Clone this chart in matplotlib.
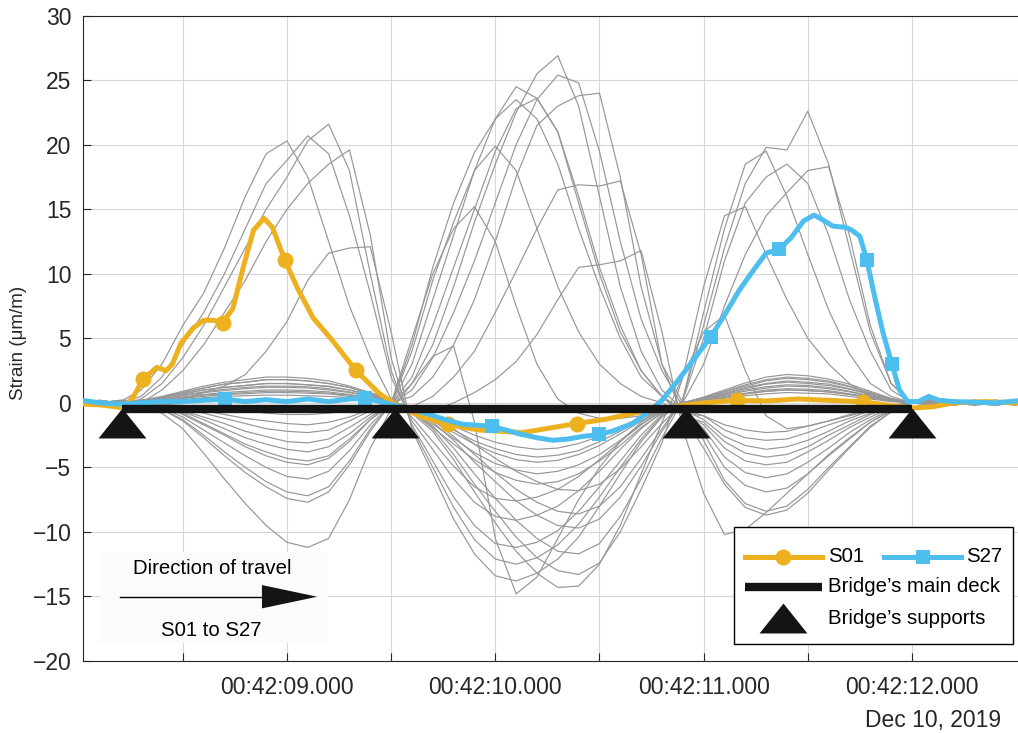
import matplotlib
matplotlib.use('Agg')
import matplotlib.pyplot as plt
from matplotlib.patches import Rectangle, Polygon

plt.rcParams['font.family'] = ['Liberation Sans', 'DejaVu Sans']

# ---------------- data (time in seconds after 00:42:00, strain in um/m) ----------------
t_grid = [8.0, 8.1, 8.2, 8.3, 8.4, 8.5, 8.6, 8.7, 8.8, 8.9,
          9.0, 9.1, 9.2, 9.3, 9.4, 9.5, 9.6, 9.7, 9.8, 9.9,
          10.0, 10.1, 10.2, 10.3, 10.4, 10.5, 10.6, 10.7, 10.8, 10.9,
          11.0, 11.1, 11.2, 11.3, 11.4, 11.5, 11.6, 11.7, 11.8, 11.9,
          12.0, 12.1, 12.2, 12.3, 12.4, 12.5]

# gray sensors (other strain gauges)
g01 = [0.2, -0.1, 0.1, 1.0, 3.0, 6.0, 8.5, 12.0, 16.0, 19.3, 20.3, 17.5, 12.5, 7.5, 3.5, 0.3, -1.1, -3.0, -4.9, -6.5, -7.4, -7.6, -7.3, -6.7, -5.7, -4.4, -3.0, -1.7, -0.6, 0.0, 0.2, 0.45, 0.7, 0.9, 1.0, 0.95, 0.85, 0.65, 0.4, 0.15, 0.0, 0.2, -0.1, 0.1, 0.0, 0.1]
g02 = [-0.2, 0.1, 0.0, 0.5, 2.0, 4.5, 7.0, 10.0, 13.5, 17.0, 18.8, 20.7, 19.3, 14.5, 8.5, 2.0, -1.4, -3.6, -5.9, -7.7, -8.8, -9.1, -8.7, -8.0, -6.8, -5.3, -3.6, -2.0, -0.7, 0.0, 0.25, 0.6, 0.9, 1.15, 1.3, 1.25, 1.1, 0.85, 0.5, 0.2, 0.0, -0.1, 0.2, 0.0, -0.2, 0.0]
g03 = [0.3, 0.0, -0.2, 0.3, 1.5, 3.5, 6.0, 9.0, 12.0, 15.0, 17.5, 20.3, 21.6, 18.0, 10.0, 2.5, -1.7, -4.5, -7.3, -9.5, -10.9, -11.2, -10.8, -9.9, -8.4, -6.5, -4.5, -2.5, -0.9, 0.0, 0.3, 0.7, 1.1, 1.45, 1.6, 1.5, 1.35, 1.05, 0.65, 0.25, 0.0, 0.1, -0.2, 0.2, 0.0, -0.1]
g04 = [-0.3, 0.2, 0.0, 0.0, 1.0, 2.5, 4.5, 7.0, 9.5, 12.5, 15.0, 17.0, 18.5, 19.6, 13.0, 3.5, -1.9, -5.0, -8.1, -10.6, -12.1, -12.5, -12.0, -11.0, -9.4, -7.3, -5.0, -2.8, -1.0, 0.0, 0.4, 0.85, 1.3, 1.7, 1.9, 1.8, 1.6, 1.25, 0.75, 0.3, 0.0, 0.2, 0.0, -0.1, 0.1, 0.0]
g05 = [0.1, -0.2, 0.1, 0.0, 0.2, 0.3, 0.8, 1.3, 2.2, 4.0, 6.3, 9.5, 11.6, 12.0, 12.1, 5.5, -2.1, -5.5, -9.0, -11.7, -13.4, -13.8, -13.2, -12.1, -10.4, -8.0, -5.5, -3.0, -1.1, 0.0, 0.45, 1.0, 1.55, 2.0, 2.2, 2.1, 1.85, 1.45, 0.9, 0.35, 0.0, -0.2, 0.1, 0.0, 0.2, -0.1]
g06 = [0.0, 0.2, -0.1, -0.1, -0.3, -0.7, -1.3, -2.0, -2.7, -3.2, -3.6, -3.8, -3.4, -2.4, -1.1, -0.1, 1.5, 4.5, 9.0, 14.0, 18.5, 22.5, 25.5, 26.9, 23.0, 16.0, 9.0, 4.0, 1.0, -0.5, -2.0, -4.2, -5.4, -5.8, -5.5, -4.6, -3.5, -2.3, -1.3, -0.5, 0.0, 0.2, -0.1, 0.1, 0.0, 0.2]
g07 = [0.1, 0.0, 0.2, -0.1, -0.2, -0.6, -1.1, -1.6, -2.2, -2.6, -3.0, -3.1, -2.8, -1.9, -0.9, -0.1, 1.0, 3.5, 7.0, 11.0, 15.5, 20.0, 23.5, 25.4, 24.8, 19.5, 12.5, 6.5, 2.5, -0.3, -2.4, -5.0, -6.4, -6.9, -6.6, -5.5, -4.1, -2.8, -1.5, -0.6, 0.0, -0.2, 0.0, 0.2, 0.1, -0.1]
g08 = [-0.1, 0.1, 0.0, -0.1, -0.5, -1.3, -2.5, -3.8, -5.0, -6.1, -6.9, -7.2, -6.5, -4.5, -2.0, -0.1, 4.5, 10.5, 15.5, 19.4, 22.0, 24.5, 23.6, 21.0, 15.5, 10.0, 5.5, 2.5, 0.5, -0.5, -1.3, -2.6, -3.3, -3.6, -3.4, -2.9, -2.2, -1.4, -0.8, -0.3, 0.0, 0.1, 0.2, -0.1, 0.0, 0.1]
g09 = [0.2, -0.1, 0.1, 0.0, -0.2, -0.4, -0.8, -1.2, -1.6, -2.0, -2.2, -2.3, -2.1, -1.4, -0.6, 0.0, 0.5, 2.0, 4.5, 8.0, 12.5, 17.5, 21.5, 23.0, 23.8, 24.0, 17.5, 9.0, 3.0, 0.0, -2.9, -6.0, -7.8, -8.4, -8.0, -6.7, -5.0, -3.4, -1.8, -0.7, 0.0, 0.0, -0.2, 0.1, 0.2, 0.0]
g10 = [-0.2, 0.0, 0.1, -0.1, -0.3, -0.8, -1.6, -2.4, -3.2, -3.8, -4.3, -4.5, -4.1, -2.8, -1.3, -0.1, 2.0, 6.0, 10.5, 15.0, 19.5, 22.8, 23.6, 21.0, 16.0, 10.5, 6.0, 2.5, 0.5, -0.8, -1.7, -3.5, -4.5, -4.8, -4.6, -3.8, -2.9, -1.9, -1.1, -0.4, 0.0, 0.2, 0.0, -0.1, 0.1, 0.0]
g11 = [0.0, -0.2, 0.1, -0.1, -0.4, -1.1, -2.1, -3.1, -4.1, -5.0, -5.7, -5.9, -5.3, -3.7, -1.7, -0.1, 4.0, 9.5, 14.0, 18.0, 19.9, 18.0, 13.5, 9.0, 5.5, 3.0, 1.5, 0.5, 0.0, -0.8, -1.0, -2.1, -2.7, -2.9, -2.8, -2.3, -1.7, -1.2, -0.6, -0.2, 0.0, -0.1, 0.1, 0.0, -0.2, 0.1]
g12 = [0.1, 0.1, -0.1, -0.2, -0.5, -1.4, -2.7, -4.1, -5.4, -6.5, -7.4, -7.7, -6.9, -4.8, -2.2, 0.0, 5.0, 10.0, 13.5, 15.2, 12.5, 7.5, 3.0, 0.3, -0.8, -1.2, -1.2, -1.0, -0.6, -0.5, -1.0, -1.7, -2.1, -2.3, -2.2, -1.8, -1.4, -0.9, -0.5, -0.2, 0.0, 0.1, 0.0, 0.2, -0.1, 0.0]
g13 = [-0.1, 0.0, 0.2, -0.2, -0.8, -2.0, -3.9, -5.9, -7.8, -9.5, -10.8, -11.2, -10.5, -7.5, -3.5, -0.5, 1.5, 3.6, 4.4, -1.5, -10.5, -14.8, -13.5, -10.5, -7.5, -5.0, -3.0, -1.5, -0.5, 0.0, 0.2, 0.45, 0.7, 0.9, 1.0, 0.95, 0.85, 0.65, 0.4, 0.15, 0.0, 0.1, -0.1, 0.0, 0.1, -0.2]
g14 = [0.0, 0.1, -0.1, 0.0, -0.1, -0.3, -0.6, -0.9, -1.2, -1.4, -1.6, -1.7, -1.5, -1.1, -0.5, 0.0, -0.3, 0.5, 2.0, 4.0, 7.0, 10.2, 13.5, 16.5, 16.9, 16.8, 17.2, 11.5, 3.0, -1.0, -3.5, -6.3, -8.1, -8.7, -8.3, -7.0, -5.2, -3.5, -1.9, -0.7, 0.0, 0.2, 0.0, -0.2, 0.0, 0.1]
g15 = [0.1, -0.1, 0.0, 0.0, -0.1, -0.2, -0.3, -0.5, -0.6, -0.8, -0.9, -0.9, -0.8, -0.6, -0.3, 0.0, -0.8, -0.6, 0.0, 0.8, 1.8, 3.2, 5.3, 8.0, 10.5, 10.7, 11.0, 11.8, 5.5, -2.0, -7.0, -10.2, -9.8, -8.5, -7.0, -5.5, -4.0, -2.7, -1.5, -0.6, 0.0, -0.1, 0.1, 0.0, 0.2, 0.0]
g16 = [0.2, 0.0, -0.1, -0.1, -0.3, -0.9, -1.7, -2.5, -3.4, -4.1, -4.6, -4.8, -4.3, -3.0, -1.3, -0.1, 3.0, 8.0, 13.0, 18.0, 22.0, 23.5, 22.0, 18.5, 13.5, 9.0, 5.0, 2.0, 0.5, -1.0, -1.5, -3.0, -3.9, -4.2, -4.0, -3.4, -2.5, -1.7, -0.9, -0.3, 0.0, 0.0, 0.1, -0.1, 0.0, 0.2]
g17 = [0.0, 0.2, 0.0, 0.1, 0.25, 0.45, 0.65, 0.8, 0.9, 1.0, 1.0, 0.95, 0.85, 0.65, 0.4, 0.15, -0.4, -1.3, -2.6, -4.0, -5.4, -6.7, -7.7, -8.4, -8.6, -8.0, -6.5, -4.3, -2.0, 0.3, 6.0, 12.0, 17.0, 19.8, 19.6, 22.6, 18.5, 12.0, 5.5, 1.5, 0.0, 0.3, 0.0, -0.1, 0.1, 0.0]
g18 = [0.1, -0.1, 0.1, 0.1, 0.3, 0.6, 0.85, 1.05, 1.2, 1.3, 1.3, 1.25, 1.1, 0.85, 0.5, 0.2, -0.5, -1.5, -2.9, -4.6, -6.1, -7.6, -8.7, -9.5, -9.7, -9.0, -7.3, -4.9, -2.2, 0.3, 7.0, 13.5, 18.5, 19.5, 16.0, 11.5, 7.2, 3.8, 1.5, 0.5, 0.0, -0.1, 0.2, 0.0, 0.0, -0.2]
g19 = [-0.2, 0.0, 0.1, 0.15, 0.4, 0.7, 1.0, 1.2, 1.35, 1.5, 1.5, 1.4, 1.3, 1.0, 0.6, 0.2, -0.6, -1.8, -3.5, -5.5, -7.4, -9.1, -10.5, -11.5, -11.7, -10.9, -8.8, -5.9, -2.7, 0.2, 5.0, 11.0, 15.5, 17.5, 18.5, 17.0, 13.0, 8.0, 4.0, 1.0, 0.0, 0.2, 0.0, 0.1, -0.1, 0.0]
g20 = [0.1, 0.0, -0.1, 0.1, 0.2, 0.35, 0.5, 0.65, 0.7, 0.8, 0.8, 0.75, 0.7, 0.5, 0.3, 0.1, -0.3, -1.0, -2.0, -3.2, -4.3, -5.3, -6.1, -6.7, -6.8, -6.3, -5.1, -3.4, -1.6, 0.0, 3.0, 7.5, 11.5, 14.5, 16.3, 18.0, 18.3, 13.0, 6.0, 1.5, 0.0, 0.0, 0.2, -0.1, 0.0, 0.1]
g21 = [0.0, 0.1, 0.0, 0.2, 0.45, 0.8, 1.15, 1.45, 1.6, 1.8, 1.8, 1.7, 1.5, 1.2, 0.7, 0.25, -0.7, -2.0, -4.0, -6.3, -8.4, -10.4, -12.0, -13.0, -13.3, -12.4, -10.0, -6.7, -3.1, 2.0, 9.0, 14.5, 15.2, 11.5, 8.0, 5.0, 3.0, 1.5, 0.5, 0.2, 0.0, 0.1, -0.1, 0.0, 0.2, 0.0]
g22 = [0.2, 0.0, -0.1, 0.2, 0.5, 0.9, 1.3, 1.6, 1.8, 2.0, 2.0, 1.9, 1.7, 1.3, 0.8, 0.3, -0.8, -2.2, -4.4, -6.9, -9.3, -11.5, -13.2, -14.3, -14.2, -12.5, -9.5, -5.5, -1.5, 2.0, 5.5, 6.8, 2.5, -1.0, -2.0, -1.8, -1.4, -1.0, -0.6, -0.2, 0.0, 0.1, 0.0, -0.1, 0.1, 0.0]
g23 = [0.1, 0.0, 0.2, 0.2, 0.45, 0.8, 1.15, 1.45, 1.6, 1.8, 1.8, 1.7, 1.5, 1.2, 0.7, 0.25, -0.6, -1.9, -3.2, -4.4, -5.4, -6.0, -6.3, -6.1, -5.5, -4.5, -3.3, -1.9, -0.8, 0.0, 0.4, 0.9, 1.4, 1.8, 2.0, 1.9, 1.7, 1.3, 0.8, 0.3, 0.0, 0.0, -0.1, 0.1, 0.0, 0.1]
g24 = [-0.1, 0.1, 0.0, 0.15, 0.4, 0.7, 1.0, 1.2, 1.35, 1.5, 1.5, 1.4, 1.25, 1.0, 0.6, 0.2, -0.55, -1.65, -2.75, -3.85, -4.7, -5.2, -5.5, -5.3, -4.8, -4.0, -2.9, -1.65, -0.65, 0.0, 0.35, 0.75, 1.2, 1.5, 1.7, 1.6, 1.45, 1.1, 0.7, 0.25, 0.0, 0.1, 0.0, 0.0, -0.1, 0.0]
g25 = [0.0, -0.2, 0.0, 0.1, 0.3, 0.55, 0.8, 0.95, 1.1, 1.2, 1.2, 1.15, 1.0, 0.8, 0.5, 0.2, -0.45, -1.4, -2.3, -3.2, -3.9, -4.4, -4.6, -4.45, -4.0, -3.3, -2.4, -1.4, -0.55, 0.0, 0.3, 0.6, 1.0, 1.25, 1.4, 1.35, 1.2, 0.9, 0.55, 0.2, 0.0, 0.0, 0.1, -0.1, 0.1, 0.0]
g26 = [0.1, 0.1, 0.0, 0.1, 0.2, 0.4, 0.6, 0.7, 0.8, 0.9, 0.9, 0.85, 0.75, 0.6, 0.35, 0.1, -0.4, -1.25, -2.1, -2.95, -3.55, -4.0, -4.2, -4.05, -3.7, -3.0, -2.2, -1.25, -0.5, 0.0, 0.2, 0.5, 0.75, 1.0, 1.1, 1.05, 0.95, 0.7, 0.45, 0.15, 0.0, -0.1, 0.0, 0.1, 0.0, -0.1]
g27 = [-0.1, 0.0, 0.1, 0.05, 0.15, 0.25, 0.4, 0.5, 0.55, 0.6, 0.6, 0.55, 0.5, 0.4, 0.25, 0.1, -0.35, -1.1, -1.8, -2.5, -3.05, -3.4, -3.6, -3.5, -3.15, -2.6, -1.9, -1.1, -0.45, 0.0, 0.15, 0.35, 0.55, 0.7, 0.8, 0.75, 0.7, 0.5, 0.3, 0.1, 0.0, 0.1, -0.1, 0.0, 0.1, 0.0]

gray_series = [g01, g02, g03, g04, g05, g06, g07, g08, g09, g10, g11, g12, g13, g14,
               g15, g16, g17, g18, g19, g20, g21, g22, g23, g24, g25, g26, g27]

# highlighted sensor S01
s01_t = [8.02, 8.1, 8.18, 8.21, 8.26, 8.31, 8.375, 8.42, 8.45, 8.49, 8.55, 8.6, 8.65, 8.69, 8.74,
         8.79, 8.84, 8.89, 8.93, 8.99, 9.05, 9.125, 9.22, 9.33, 9.445, 9.54, 9.65, 9.77, 9.92, 10.13,
         10.28, 10.39, 10.53, 10.68, 10.8, 10.9, 11.0, 11.15, 11.3, 11.45, 11.6, 11.76, 11.9, 12.0,
         12.1, 12.2, 12.35, 12.5]
s01_s = [-0.1, -0.15, -0.3, -0.4, 0.4, 1.84, 2.75, 2.5, 3.0, 4.6, 5.8, 6.4, 6.4, 6.2, 7.3,
         10.5, 13.4, 14.3, 13.6, 11.06, 8.9, 6.6, 4.8, 2.53, 0.7, -0.3, -1.1, -1.67, -2.1, -2.3,
         -1.9, -1.6, -1.27, -0.75, -0.5, -0.2, 0.0, 0.2, 0.15, 0.3, 0.2, 0.08, -0.2, -0.4,
         -0.3, 0.0, 0.1, 0.0]
s01_mark_t = [8.310, 8.691, 8.990, 9.331, 9.774, 10.393, 11.159, 11.765]
s01_mark_s = [1.84, 6.2, 11.06, 2.53, -1.67, -1.6, 0.2, 0.08]

# highlighted sensor S27
s27_t = [8.02, 8.1, 8.2, 8.3, 8.4, 8.5, 8.6, 8.702, 8.8, 8.9, 9.0, 9.1, 9.2, 9.3, 9.374,
         9.45, 9.52, 9.6, 9.685, 9.76, 9.84, 9.983, 10.05, 10.115, 10.2, 10.275, 10.35, 10.42,
         10.498, 10.56, 10.66, 10.75, 10.8, 10.88, 10.95, 11.034, 11.1, 11.17, 11.24, 11.3,
         11.363, 11.42, 11.48, 11.53, 11.57, 11.62, 11.68, 11.71, 11.75, 11.783, 11.82, 11.86,
         11.903, 11.94, 11.98, 12.03, 12.08, 12.13, 12.2, 12.3, 12.4, 12.5]
s27_s = [0.2, 0.0, -0.1, 0.0, 0.1, 0.1, 0.2, 0.29, 0.1, 0.25, 0.1, 0.3, 0.1, 0.3, 0.34,
         0.1, -0.2, -0.5, -0.9, -1.3, -1.65, -1.81, -2.1, -2.4, -2.7, -2.9, -2.8, -2.6,
         -2.45, -2.2, -1.6, -0.5, 0.2, 1.8, 3.3, 5.12, 6.8, 8.7, 10.3, 11.6,
         11.9, 12.8, 14.1, 14.55, 14.2, 13.7, 13.6, 13.4, 12.9, 11.1, 8.3, 5.5,
         3.05, 1.0, 0.1, 0.1, 0.5, 0.2, 0.1, 0.05, 0.0, 0.15]
s27_mark_t = [8.702, 9.374, 9.983, 10.498, 11.034, 11.363, 11.783, 11.903]
s27_mark_s = [0.29, 0.34, -1.81, -2.45, 5.12, 11.9, 11.1, 3.05]

# bridge geometry drawn in the time/strain frame
deck_t = [8.208, 12.0]
deck_s = [-0.49, -0.49]
support_t = [8.208, 9.518, 10.915, 12.0]
support_s = [-1.57, -1.57, -1.57, -1.57]

xtick_pos = [8.5, 9.0, 9.5, 10.0, 10.5, 11.0, 11.5, 12.0]
xtick_labels = ['', '00:42:09.000', '', '00:42:10.000', '', '00:42:11.000', '', '00:42:12.000']
ytick_pos = [-20, -15, -10, -5, 0, 5, 10, 15, 20, 25, 30]

# ---------------- figure ----------------
W, H = 1018, 733
fig = plt.figure(figsize=(W / 100, H / 100), dpi=100)
ax = fig.add_axes([83 / W, 72 / H, 935 / W, 645.3 / H])

C_ORANGE = '#EDB120'
C_BLUE = '#4DBEEE'
C_BLACK = '#141414'
C_GRAY = '#969696'
C_TEXT = '#262626'

for g in gray_series:
    ax.plot(t_grid, g, color=C_GRAY, lw=0.85, zorder=2, solid_joinstyle='round')

ax.plot(s01_t, s01_s, color=C_ORANGE, lw=3.6, zorder=3, solid_joinstyle='round')
ax.plot(s01_mark_t, s01_mark_s, 'o', color=C_ORANGE, ms=11.5, mew=0, zorder=3)
ax.plot(s27_t, s27_s, color=C_BLUE, lw=3.6, zorder=3, solid_joinstyle='round')
ax.plot(s27_mark_t, s27_mark_s, 's', color=C_BLUE, ms=10.5, mew=0, zorder=3)

ax.plot(deck_t, deck_s, color=C_BLACK, lw=6.0, solid_capstyle='butt', zorder=4)
tri = [(-1, -0.625), (1, -0.625), (0, 0.625), (-1, -0.625)]
ax.plot(support_t, support_s, linestyle='none', marker=tri, ms=34.5, mew=0,
        color=C_BLACK, zorder=5)

ax.set_xlim(8.021, 12.509)
ax.set_ylim(-20, 30)
ax.set_xticks(xtick_pos)
ax.set_xticklabels(xtick_labels)
ax.set_yticks(ytick_pos)
ax.grid(True, color='#d6d6d6', lw=0.8)
ax.set_axisbelow(True)
ax.tick_params(axis='both', direction='in', length=6, width=0.8, colors=C_TEXT,
               labelsize=16.5)
ax.tick_params(axis='x', pad=10.6)
ax.tick_params(axis='y', pad=8.4)
for side in ['left', 'bottom', 'top']:
    ax.spines[side].set_color(C_TEXT)
    ax.spines[side].set_linewidth(0.8)
ax.spines['right'].set_visible(False)

# ---------------- direction of travel box ----------------
ax.add_patch(Rectangle((0.0182, 0.0274), 0.2438, 0.142, transform=ax.transAxes,
                       facecolor='#fbfbfb', edgecolor='none', zorder=1.5))
ax.text(0.1386, 0.1441, 'Direction of travel', transform=ax.transAxes, ha='center',
        va='center', fontsize=14.7, color='black', zorder=7)
ax.text(0.1369, 0.0480, 'S01 to S27', transform=ax.transAxes, ha='center',
        va='center', fontsize=14.7, color='black', zorder=7)
ax.plot([0.0401, 0.1914], [0.0996, 0.0996], color='black', lw=1.0,
        transform=ax.transAxes, zorder=7)
ax.add_patch(Polygon([(0.1914, 0.0996 + 0.0181), (0.2505, 0.0996), (0.1914, 0.0996 - 0.0181)],
                     closed=True, transform=ax.transAxes, facecolor=C_BLACK,
                     edgecolor='none', zorder=7))

# ---------------- legend ----------------
ax.add_patch(Rectangle((0.696, 0.0259), 0.2983, 0.1822, transform=ax.transAxes,
                       facecolor='white', edgecolor='black', lw=1.0, zorder=10))
r1, r2, r3 = 0.1616, 0.1151, 0.0662
tx = 0.7968
ax.plot([0.7075, 0.7904], [r1, r1], color=C_ORANGE, lw=3.6, transform=ax.transAxes, zorder=11)
ax.plot([0.7487], [r1], 'o', color=C_ORANGE, ms=11.5, mew=0, transform=ax.transAxes, zorder=11)
ax.text(tx, r1, 'S01', transform=ax.transAxes, ha='left', va='center',
        fontsize=14.7, color='black', zorder=11)
ax.plot([0.8572, 0.9388], [r1, r1], color=C_BLUE, lw=3.6, transform=ax.transAxes, zorder=11)
ax.plot([0.8987], [r1], 's', color=C_BLUE, ms=10.5, mew=0, transform=ax.transAxes, zorder=11)
ax.text(0.9446, r1, 'S27', transform=ax.transAxes, ha='left', va='center',
        fontsize=14.7, color='black', zorder=11)
ax.plot([0.7075, 0.7904], [r2, r2], color=C_BLACK, lw=6.0, solid_capstyle='butt',
        transform=ax.transAxes, zorder=11)
ax.text(tx, r2, 'Bridge\u2019s main deck', transform=ax.transAxes, ha='left',
        va='center', fontsize=14.7, color='black', zorder=11)
ax.plot([0.7487], [r3], linestyle='none', marker=tri, ms=34.5, mew=0, color=C_BLACK,
        transform=ax.transAxes, zorder=11)
ax.text(tx, r3, 'Bridge\u2019s supports', transform=ax.transAxes, ha='left',
        va='center', fontsize=14.7, color='black', zorder=11)

ax.set_xlim(8.021, 12.509)
ax.set_ylim(-20, 30)

# ---------------- outer labels ----------------
fig.text(18.3 / W, 1 - 343 / H, 'Strain (\u03bcm/m)', rotation=90, ha='center',
         va='center', fontsize=13.5, color=C_TEXT)
fig.text(1001 / W, 1 - 720 / H, 'Dec 10, 2019', ha='right', va='center',
         fontsize=16.5, color=C_TEXT)

fig.savefig('out.png', dpi=100)
